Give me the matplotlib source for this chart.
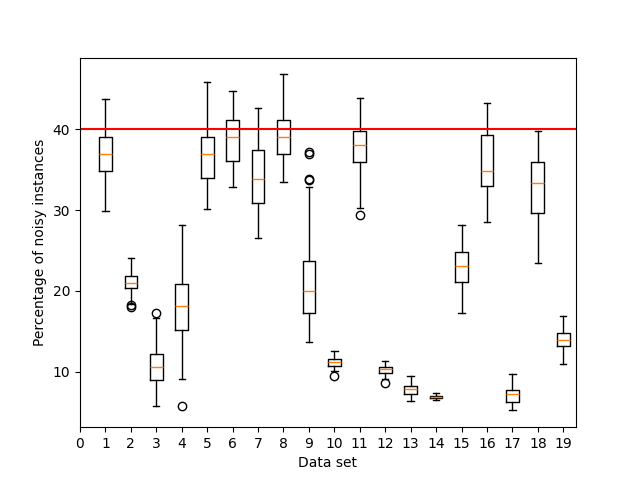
import matplotlib
matplotlib.use("Agg")
import matplotlib.pyplot as plt

# box statistics, one entry per data set
datasets = list(range(1, 20))
whisk_hi = [43.7, 24.1, 16.7, 28.2, 45.8, 44.8, 42.6, 46.8, 32.9, 12.6,
            43.9, 11.3, 9.4, 7.3, 28.2, 43.2, 9.7, 39.8, 16.9]
q3 = [39.1, 21.9, 12.2, 20.9, 39.1, 41.1, 37.4, 41.1, 23.7, 11.6,
      39.8, 10.6, 8.2, 7.0, 24.8, 39.3, 7.7, 36.0, 14.8]
medians = [37.0, 21.0, 10.6, 18.1, 36.9, 39.1, 33.8, 39.0, 20.0, 11.2,
           38.0, 10.3, 7.9, 6.9, 23.1, 34.9, 7.2, 33.3, 13.9]
q1 = [34.8, 20.3, 9.0, 15.2, 34.0, 36.1, 30.9, 36.9, 17.2, 10.7,
      35.9, 9.85, 7.25, 6.7, 21.1, 33.0, 6.3, 29.6, 13.2]
whisk_lo = [29.9, 18.4, 5.8, 9.1, 30.1, 32.8, 26.6, 33.5, 13.7, 10.1,
            30.3, 9.1, 6.4, 6.5, 17.2, 28.5, 5.2, 23.5, 10.9]
outliers = [[], [18.2, 18.0], [17.2], [5.8], [], [], [], [],
            [37.2, 37.0, 33.9, 33.7], [9.4], [29.4], [8.6], [], [], [],
            [], [], [], []]

stats = []
for i in range(len(datasets)):
    stats.append({"whishi": whisk_hi[i], "q3": q3[i], "med": medians[i],
                  "q1": q1[i], "whislo": whisk_lo[i], "fliers": outliers[i]})

fig, ax = plt.subplots()
ax.bxp(stats, positions=datasets)
ax.axhline(40, color="red", linewidth=1.5)

ax.set_xticks(range(20))
ax.set_xticklabels([str(i) for i in range(20)])
ax.set_xlim(0, 19.5)
ax.set_xlabel("Data set")
ax.set_ylabel("Percentage of noisy instances")

fig.savefig("out.png")
